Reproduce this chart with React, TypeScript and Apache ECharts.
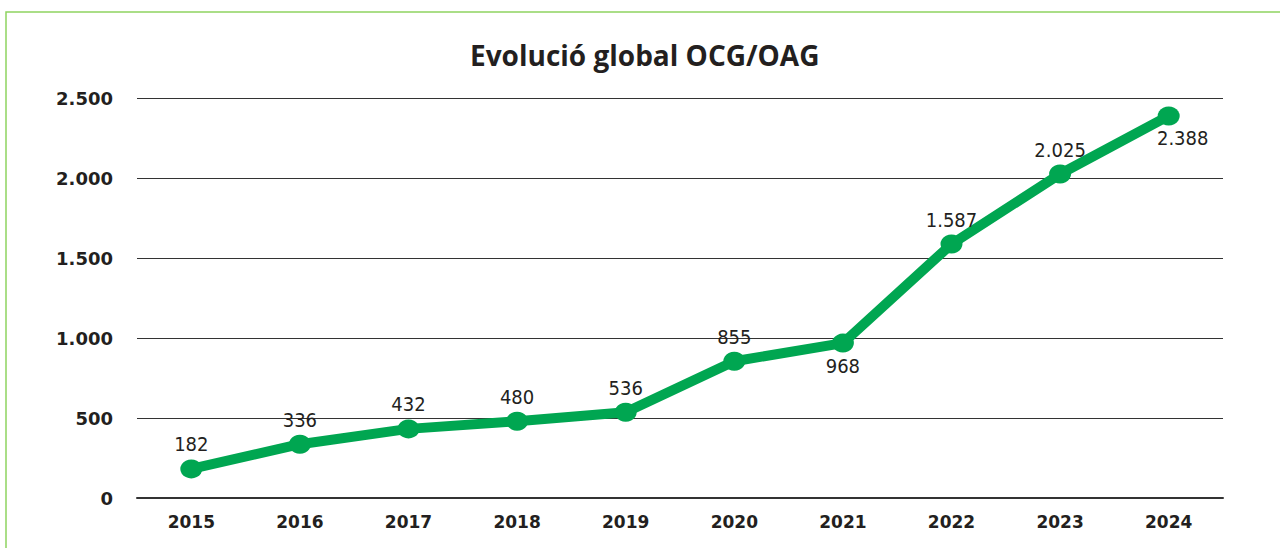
import React, { useEffect, useRef } from "react";
import * as echarts from "echarts";

const years = ["2015", "2016", "2017", "2018", "2019", "2020", "2021", "2022", "2023", "2024"];
const values = [182, 336, 432, 480, 536, 855, 968, 1587, 2025, 2388];
const belowLabels = ["2021", "2024"];
const title = "Evolució global OCG/OAG";

const fmt = (v: number) => v.toString().replace(/\B(?=(\d{3})+(?!\d))/g, ".");

export default function App() {
  const ref = useRef<HTMLDivElement>(null);
  useEffect(() => {
    if (!ref.current) return;
    const chart = echarts.init(ref.current, null, { renderer: "svg" });
    const data = values.map((v, i) => {
      const below = belowLabels.includes(years[i]);
      return {
        value: v,
        label: below
          ? { position: "bottom", offset: years[i] === "2024" ? [14, -2] : [0, -2] }
          : { position: "top", offset: [0, 0] },
      };
    });
    chart.setOption({
      animation: false,
      backgroundColor: "#ffffff",
      title: {
        text: title,
        left: 465,
        top: 36,
        textStyle: {
          fontFamily: "'Open Sans', 'DejaVu Sans', sans-serif",
          fontWeight: "bold",
          fontSize: 28,
          color: "#231f20",
        },
      },
      graphic: [
        {
          type: "rect",
          shape: { x: 6, y: 12, width: 1320, height: 600 },
          style: { fill: "none", stroke: "#8fd460", lineWidth: 1.5 },
          silent: true,
        },
      ],
      grid: { left: 137, right: 57, top: 98, bottom: 50, containLabel: false },
      xAxis: {
        type: "category",
        data: years,
        boundaryGap: true,
        axisTick: { show: false },
        axisLine: { show: true, lineStyle: { color: "#333", width: 2 } },
        axisLabel: {
          margin: 15,
          fontFamily: "'DejaVu Sans', sans-serif",
          fontWeight: 900,
          fontSize: 17,
          color: "#231f20",
        },
      },
      yAxis: {
        type: "value",
        min: 0,
        max: 2500,
        interval: 500,
        axisLine: { show: false },
        axisTick: { show: false },
        splitLine: { lineStyle: { color: "#333", width: 1 } },
        axisLabel: {
          margin: 24,
          formatter: (v: number) => fmt(v),
          fontFamily: "'DejaVu Sans', sans-serif",
          fontWeight: "bold",
          fontSize: 18,
          color: "#231f20",
        },
      },
      series: [
        {
          type: "line",
          data,
          symbol: "circle",
          symbolSize: [22, 19],
          lineStyle: { color: "#00a651", width: 10 },
          itemStyle: { color: "#00a651" },
          label: {
            show: true,
            formatter: (p: any) => fmt(p.value),
            fontFamily: "'DejaVu Sans Condensed', 'Liberation Sans Narrow', sans-serif",
            fontSize: 20,
            color: "#231f20",
          },
        },
      ],
    });
    return () => chart.dispose();
  }, []);
  return (
    <div
      ref={ref}
      style={{ position: "fixed", left: 0, top: 0, width: 1280, height: 548 }}
    />
  );
}
